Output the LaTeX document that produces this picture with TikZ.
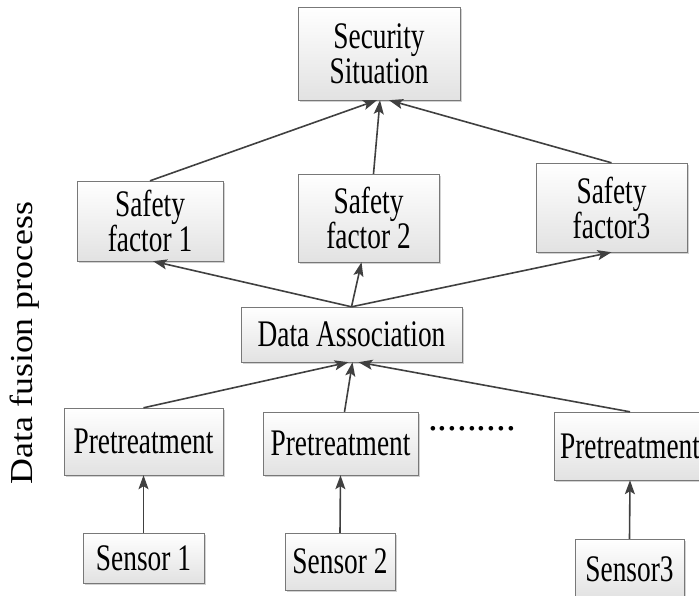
\documentclass[tikz,border=0pt]{standalone}
\usepackage{fontspec}
\setmainfont{Liberation Serif}
\newfontfamily\boxfont[FakeStretch=0.73]{Liberation Serif}
\newfontfamily\sidefont[FakeStretch=1.12]{Liberation Serif}
\usetikzlibrary{arrows.meta,shadows}
\definecolor{linegray}{RGB}{64,64,64}
\definecolor{boxline}{RGB}{120,120,120}
\definecolor{boxfill}{RGB}{226,226,226}

\begin{document}
\begin{tikzpicture}[x=1pt,y=-1pt]
      \useasboundingbox (0,0) rectangle (699,595);

      \begin{scope}[every node/.style={draw=boxline, top color=white, bottom color=boxfill,
          drop shadow={shadow xshift=2pt, shadow yshift=-2pt, fill=black!35},
          inner sep=0pt, align=center, font={\fontsize{37.5}{35}\boxfont}}]
        \node[minimum width=162pt, minimum height=93pt] (1)  at (379,53.5)  {Security\\Situation};
        \node[minimum width=146pt, minimum height=80pt] (2)  at (150,221)   {Safety\\factor 1};
        \node[minimum width=141pt, minimum height=88pt] (3)  at (368.5,218) {Safety\\factor 2};
        \node[minimum width=151pt, minimum height=89pt] (4)  at (611.5,207.5) {Safety\\factor3};
        \node[minimum width=221pt, minimum height=55pt] (5)  at (351.5,334.5) {Data Association};
        \node[minimum width=159pt, minimum height=67pt] (6)  at (143.5,441.5) {Pretreatment};
        \node[minimum width=155pt, minimum height=63pt] (7)  at (340.5,443.5) {Pretreatment};
        \node[minimum width=152pt, minimum height=68pt] (8)  at (630,446)   {Pretreatment};
        \node[minimum width=121pt, minimum height=50pt] (9)  at (143.5,558) {Sensor 1};
        \node[minimum width=110pt, minimum height=57pt] (10) at (340,561.5) {Sensor 2};
        \node[minimum width=109pt, minimum height=60pt] (11) at (629.5,569) {Sensor3};
      \end{scope}

      \node[font={\fontsize{39}{40}\selectfont}] (12) at (472,429) {.........};
      \node[rotate=90, font={\fontsize{32}{32}\sidefont}] (13) at (25,343) {Data fusion process};

      \begin{scope}[every edge/.style={draw=linegray, line width=1.6pt,
          -{Stealth[length=14pt, width=10pt, inset=3pt]}}]
        \path (2.north)                edge ([xshift=-2pt]1.south);
        \path ([xshift=5pt]3.north)    edge ([xshift=1pt]1.south);
        \path (4.north)                edge ([xshift=10pt]1.south);
        \path (5.north)                edge ([xshift=3pt]2.south);
        \path (5.north)                edge ([xshift=-7pt]3.south);
        \path (5.north)                edge (4.south);
        \path (6.north)                edge ([xshift=-3pt]5.south);
        \path ([xshift=4pt]7.north)    edge ([xshift=1pt]5.south);
        \path (8.north)                edge ([xshift=7pt]5.south);
        \path (9.north)                edge (6.south);
        \path (10.north)               edge (7.south);
        \path (11.north)               edge (8.south);
      \end{scope}

    \end{tikzpicture}
\end{document}
